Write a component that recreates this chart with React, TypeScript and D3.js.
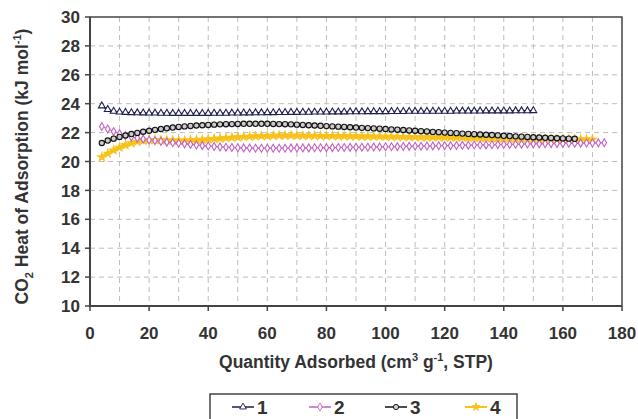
import React from "react";
import * as d3 from "d3";

// shared loading axis (cm3/g STP) for every isotherm point
const loading = [
  4, 6, 8, 10, 12, 14, 16, 18, 20, 22, 24, 26, 28, 30, 32, 34, 36, 38, 40, 42,
  44, 46, 48, 50, 52, 54, 56, 58, 60, 62, 64, 66, 68, 70, 72, 74, 76, 78, 80, 82,
  84, 86, 88, 90, 92, 94, 96, 98, 100, 102, 104, 106, 108, 110, 112, 114, 116, 118, 120, 122,
  124, 126, 128, 130, 132, 134, 136, 138, 140, 142, 144, 146, 148, 150, 152, 154, 156, 158, 160, 162,
  164, 166, 168, 170, 172, 174,
];

const heat1 = [
  23.85, 23.6, 23.48, 23.42, 23.4, 23.38, 23.37, 23.36, 23.35, 23.35, 23.34, 23.34, 23.33, 23.33, 23.33, 23.33,
  23.33, 23.33, 23.33, 23.34, 23.34, 23.34, 23.35, 23.35, 23.36, 23.36, 23.37, 23.37, 23.38, 23.38, 23.39, 23.39,
  23.4, 23.4, 23.41, 23.41, 23.42, 23.42, 23.42, 23.43, 23.43, 23.43, 23.44, 23.44, 23.44, 23.45, 23.45, 23.45,
  23.45, 23.46, 23.46, 23.46, 23.47, 23.47, 23.47, 23.47, 23.48, 23.48, 23.48, 23.48, 23.49, 23.49, 23.49, 23.49,
  23.49, 23.5, 23.5, 23.5, 23.5, 23.5, 23.51, 23.51, 23.51, 23.52,
];

const heat2 = [
  22.42, 22.25, 22.08, 21.92, 21.8, 21.7, 21.62, 21.55, 21.49, 21.44, 21.39, 21.34, 21.3, 21.26, 21.22, 21.18,
  21.14, 21.1, 21.07, 21.04, 21.01, 20.99, 20.97, 20.95, 20.94, 20.93, 20.92, 20.92, 20.92, 20.92, 20.92, 20.92,
  20.93, 20.93, 20.94, 20.94, 20.95, 20.95, 20.96, 20.96, 20.97, 20.97, 20.98, 20.98, 20.99, 20.99, 21.0, 21.01,
  21.02, 21.02, 21.03, 21.04, 21.05, 21.06, 21.06, 21.07, 21.08, 21.09, 21.1, 21.1, 21.11, 21.12, 21.13, 21.14,
  21.14, 21.15, 21.16, 21.17, 21.18, 21.18, 21.19, 21.2, 21.21, 21.22, 21.22, 21.23, 21.24, 21.24, 21.25, 21.26,
  21.26, 21.27, 21.28, 21.28, 21.29, 21.3,
];

const heat3 = [
  21.28, 21.45, 21.58, 21.7, 21.8, 21.9, 21.98, 22.06, 22.13, 22.19, 22.25, 22.3, 22.35, 22.39, 22.43, 22.46,
  22.49, 22.51, 22.53, 22.55, 22.57, 22.58, 22.59, 22.6, 22.61, 22.61, 22.61, 22.61, 22.61, 22.6, 22.59, 22.58,
  22.57, 22.55, 22.53, 22.51, 22.49, 22.47, 22.45, 22.43, 22.41, 22.39, 22.37, 22.35, 22.33, 22.31, 22.29, 22.27,
  22.25, 22.22, 22.2, 22.18, 22.15, 22.13, 22.1, 22.08, 22.05, 22.03, 22.0, 21.98, 21.96, 21.93, 21.91, 21.89,
  21.87, 21.85, 21.83, 21.81, 21.78, 21.76, 21.74, 21.72, 21.7, 21.68, 21.66, 21.64, 21.63, 21.61, 21.6, 21.58,
  21.57,
];

const heat4 = [
  20.3, 20.55, 20.78, 20.97, 21.13, 21.27, 21.38, 21.45, 21.49, 21.5, 21.49, 21.47, 21.46, 21.45, 21.46, 21.47,
  21.49, 21.51, 21.54, 21.57, 21.6, 21.63, 21.66, 21.69, 21.71, 21.73, 21.75, 21.77, 21.78, 21.79, 21.8, 21.8,
  21.8, 21.8, 21.79, 21.79, 21.78, 21.78, 21.77, 21.77, 21.76, 21.76, 21.75, 21.75, 21.74, 21.74, 21.73, 21.73,
  21.72, 21.72, 21.71, 21.71, 21.7, 21.7, 21.69, 21.69, 21.68, 21.68, 21.67, 21.67, 21.66, 21.66, 21.65, 21.64,
  21.64, 21.63, 21.62, 21.62, 21.61, 21.6, 21.6, 21.59, 21.58, 21.58, 21.57, 21.56, 21.56, 21.55, 21.55, 21.54,
  21.54, 21.53, 21.53, 21.52,
];

const seriesNames = ["1", "2", "3", "4"];
const xTicks = [0, 20, 40, 60, 80, 100, 120, 140, 160, 180];
const yTicks = [10, 12, 14, 16, 18, 20, 22, 24, 26, 28, 30];
const xGrid = [10, 20, 30, 40, 50, 60, 70, 80, 90, 100, 110, 120, 130, 140, 150, 160, 170];

const W = 638, H = 419;
const margin = { top: 17, right: 16, bottom: 113, left: 90 };
const font = "'Liberation Sans', Arial, sans-serif";

type Style = { color: string; lineW: number; sym: d3.SymbolType; size: number; fill: string };
const styles: Style[] = [
  { color: "#1e1e50", lineW: 1.4, sym: d3.symbolTriangle, size: 20, fill: "#fff" },
  { color: "#c062c0", lineW: 1.2, sym: d3.symbolDiamond, size: 18, fill: "#fff" },
  { color: "#111", lineW: 1.4, sym: d3.symbolCircle, size: 22, fill: "#ccc" },
  { color: "#f7c21a", lineW: 3.5, sym: d3.symbolStar, size: 20, fill: "#f7c21a" },
];

export default function App() {
  const x = d3.scaleLinear().domain([0, 180]).range([margin.left, W - margin.right]);
  const y = d3.scaleLinear().domain([10, 30]).range([H - margin.bottom, margin.top]);
  const series = [heat1, heat2, heat3, heat4];
  const line = d3.line<[number, number]>().x(d => x(d[0])).y(d => y(d[1]));
  const drawOrder = [3, 1, 2, 0];

  return (
    <div>
      <style>{`body{margin:0}`}</style>
      <svg width={W} height={H} style={{ display: "block", fontFamily: font }}>
        {/* grid */}
        {xGrid.map(v => (
          <line key={"gx" + v} x1={x(v)} x2={x(v)} y1={y(30)} y2={y(10)}
            stroke="#bdbdbd" strokeDasharray="5,4" />
        ))}
        {yTicks.slice(1, -1).map(v => (
          <line key={"gy" + v} x1={x(0)} x2={x(180)} y1={y(v)} y2={y(v)}
            stroke="#bdbdbd" strokeDasharray="5,4" />
        ))}

        {/* series */}
        {drawOrder.map(i => {
          const pts = series[i].map((v, k) => [loading[k], v] as [number, number]);
          const s = styles[i];
          const sym = d3.symbol().type(s.sym).size(s.size)();
          return (
            <g key={"s" + i}>
              <path d={line(pts) || ""} fill="none" stroke={s.color} strokeWidth={s.lineW} />
              {pts.map((p, k) => (
                <path key={k} d={sym || ""} transform={`translate(${x(p[0])},${y(p[1])})`}
                  fill={s.fill} stroke={s.color} strokeWidth={1.1} />
              ))}
            </g>
          );
        })}

        {/* frame */}
        <rect x={x(0)} y={y(30)} width={x(180) - x(0)} height={y(10) - y(30)}
          fill="none" stroke="#444" strokeWidth={1.5} />
        <line x1={x(0)} x2={x(180)} y1={y(10)} y2={y(10)} stroke="#444" strokeWidth={2} />
        <line x1={x(0)} x2={x(0)} y1={y(30)} y2={y(10)} stroke="#444" strokeWidth={2} />

        {/* y axis */}
        {yTicks.map(v => (
          <g key={"yt" + v}>
            <line x1={x(0) - 5} x2={x(0)} y1={y(v)} y2={y(v)} stroke="#444" strokeWidth={1.5} />
            <text x={80} y={y(v)} dy="0.36em" textAnchor="end" fontSize={17} fontWeight="bold" fill="#333">{v}</text>
          </g>
        ))}
        {/* x axis */}
        {xTicks.map(v => (
          <g key={"xt" + v}>
            <line x1={x(v)} x2={x(v)} y1={y(10)} y2={y(10) + 5} stroke="#444" strokeWidth={1.5} />
            <text x={x(v)} y={339} textAnchor="middle" fontSize={17} fontWeight="bold" fill="#333">{v}</text>
          </g>
        ))}

        {/* axis titles */}
        <text x={(x(0) + x(180)) / 2} y={368} textAnchor="middle" fontSize={17.5} fontWeight="bold" fill="#333">
          Quantity Adsorbed (cm<tspan dy="-7" fontSize={11}>3</tspan>
          <tspan dy="7"> g</tspan><tspan dy="-7" fontSize={11}>-1</tspan>
          <tspan dy="7">, STP)</tspan>
        </text>
        <text transform={`translate(28,${(y(10) + y(30)) / 2 + 5}) rotate(-90)`} textAnchor="middle"
          fontSize={17.5} fontWeight="bold" fill="#333">
          CO<tspan dy="5" fontSize={11}>2</tspan>
          <tspan dy="-5"> Heat of Adsorption (kJ mol</tspan>
          <tspan dy="-7" fontSize={11}>-1</tspan>
          <tspan dy="7">)</tspan>
        </text>

        {/* legend */}
        <rect x={210} y={394} width={307} height={40} fill="#fff" stroke="#444" strokeWidth={1.5} />
        {seriesNames.map((name, i) => {
          const lx = [232, 309, 385, 465][i];
          const s = styles[i];
          const sym = d3.symbol().type(s.sym).size(s.size)();
          return (
            <g key={"lg" + i}>
              <line x1={lx} x2={lx + 22} y1={407} y2={407} stroke={s.color} strokeWidth={s.lineW > 2 ? 2 : 1.5} />
              <path d={sym || ""} transform={`translate(${lx + 11},407)`} fill={s.fill} stroke={s.color} strokeWidth={0.9} />
              <text x={lx + 25} y={407} dy="0.36em" fontSize={19} fontWeight="bold" fill="#333">{name}</text>
            </g>
          );
        })}
      </svg>
    </div>
  );
}
